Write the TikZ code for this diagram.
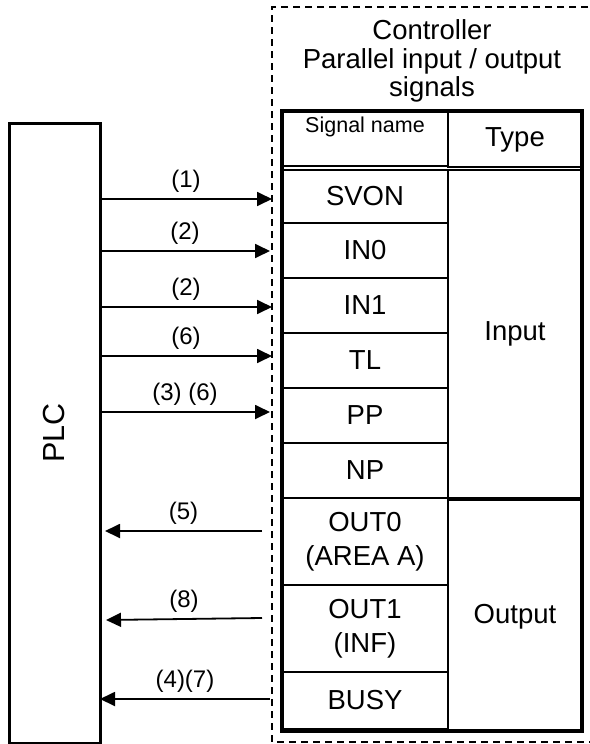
\documentclass[tikz,border=0pt]{standalone}
\usepackage{fontspec}
\setmainfont{Liberation Sans}
\usetikzlibrary{arrows.meta}
\begin{document}
\begin{tikzpicture}[x=1pt,y=-1pt,
  cell/.style={draw, line width=1.6pt, inner sep=0pt, outer sep=0pt, align=center,
    font=\fontsize{27.5}{34}\selectfont},
  sig/.style={line width=1.8pt, -{Triangle[length=15pt,width=14pt]}},
  lbl/.style={font=\fontsize{24}{28}\selectfont, inner sep=0pt},
  dashedline/.style={line width=1.3pt, dash pattern=on 7pt off 5pt}]
\useasboundingbox (0,0) rectangle (589,744);
% controller dashed frame
\coordinate (ctrl) at (272,374);
\draw[dashedline] (600,7) -- (272,7) -- (272,742) -- (600,742);
\node[align=center, font=\fontsize{27.5}{28.5}\selectfont, inner sep=0pt] (title) at (432,61) {Controller\\Parallel input / output\\signals};
% PLC
\node[draw, line width=3pt, inner sep=0pt, outer sep=0pt, minimum width=91pt, minimum height=620pt] (plc) at (54.5,433) {};
\node[rotate=90, font=\fontsize{30.5}{36}\selectfont] (plctext) at (plc.center) {PLC};
% table header
\node[cell, minimum width=166pt, minimum height=55pt] (hname) at (365,138.5) {};
\node[font=\fontsize{21.5}{24}\selectfont] (hnametext) at (365,127) {Signal name};
\node[cell, minimum width=134pt, minimum height=55pt] (htype) at (515,139.5) {Type};
% signal cells
\node[cell, minimum width=166pt, minimum height=53pt] (svon) at (365,196.5) {SVON};
\node[cell, minimum width=166pt, minimum height=55pt] (in0) at (365,250.5) {IN0};
\node[cell, minimum width=166pt, minimum height=55pt] (in1) at (365,305.5) {IN1};
\node[cell, minimum width=166pt, minimum height=55pt] (tl) at (365,360.5) {TL};
\node[cell, minimum width=166pt, minimum height=55pt] (pp) at (365,415.5) {PP};
\node[cell, minimum width=166pt, minimum height=55pt] (np) at (365,470.5) {NP};
\node[cell, minimum width=166pt, minimum height=87pt] (out0) at (365,541.5) {OUT0\\(AREA A)};
\node[cell, minimum width=166pt, minimum height=87pt] (out1) at (365,628.5) {OUT1\\(INF)};
\node[cell, minimum width=166pt, minimum height=57pt] (busy) at (365,700.5) {BUSY};
% type cells
\node[cell, minimum width=134pt, minimum height=328pt] (tin) at (515,334) {Input};
\node[cell, minimum width=134pt, minimum height=231pt] (tout) at (515,615.5) {};
\node[font=\fontsize{27.5}{34}\selectfont] (touttext) at (515,617) {Output};
% outer frame of table
\draw[line width=3.5pt] (hname.north west) rectangle (tout.south east);
% input arrows
\draw[sig] (plc.east |- 0,199) -- (ctrl |- 0,199) node[lbl, midway, above=6pt] {(1)};
\draw[sig] (plc.east |- 0,251) -- ([xshift=-2pt]ctrl |- 0,251) node[lbl, midway, above=6pt] {(2)};
\draw[sig] (plc.east |- 0,307) -- (ctrl |- 0,307) node[lbl, midway, above=6pt] {(2)};
\draw[sig] (plc.east |- 0,356) -- (ctrl |- 0,356) node[lbl, midway, above=6pt] {(6)};
\draw[sig] (plc.east |- 0,412) -- ([xshift=-2pt]ctrl |- 0,412) node[lbl, midway, above=6pt] {(3) (6)};
% output arrows
\draw[sig] ([xshift=-10pt]ctrl |- 0,531) -- ([xshift=5pt]plc.east |- 0,531) node[lbl, midway, above=6pt] {(5)};
\draw[sig] ([xshift=-10pt]ctrl |- 0,618) -- ([xshift=6pt]plc.east |- 0,620) node[lbl, midway, above=6pt] {(8)};
\draw[sig] ([xshift=-2pt]ctrl |- 0,699) -- (plc.east |- 0,699) node[lbl, midway, above=6pt] {(4)(7)};
\end{tikzpicture}
\end{document}
